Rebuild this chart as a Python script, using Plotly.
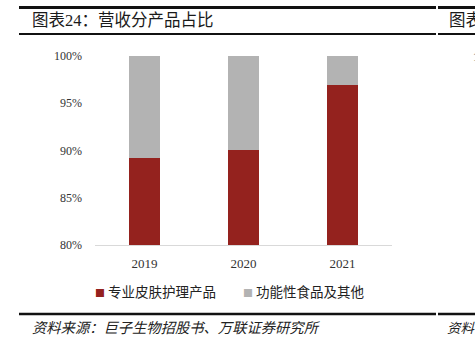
import plotly.graph_objects as go

years = ["2019", "2020", "2021"]
skin_care = [89.2, 90.1, 96.9]
func_food = [round(100 - v, 1) for v in skin_care]
series_names = ["专业皮肤护理产品", "功能性食品及其他"]
series_colors = ["#94221e", "#b3b3b3"]
y_ticks = [80, 85, 90, 95, 100]
y_ticklabels = ["80%", "85%", "90%", "95%", "100%"]

W, H = 475, 345
L, R, T, B = 95, 83, 56, 100
PW, PH = W - L - R, H - T - B


def px_x(x):
    return (x - L) / PW


def px_y(y):
    return (H - B - y) / PH


FONT_MIX = "Liberation Serif, Noto Sans CJK SC"
CJK = "Noto Sans CJK SC"

fig = go.Figure()
for vals, n, c in zip([skin_care, func_food], series_names, series_colors):
    fig.add_trace(go.Bar(x=years, y=vals, name=n,
                         marker=dict(color=c, line=dict(width=0)),
                         showlegend=False))

fig.update_layout(
    width=W, height=H,
    margin=dict(l=L, r=R, t=T, b=B),
    barmode="stack", bargap=0.69,
    plot_bgcolor="white", paper_bgcolor="white",
    xaxis=dict(showline=True, linecolor="#d9d9d9", linewidth=1,
               ticks="", showgrid=False, zeroline=False,
               tickfont=dict(family="Liberation Serif", size=13, color="#333"),
               ticklabelstandoff=6),
    yaxis=dict(range=[80, 100], tickvals=y_ticks, ticktext=y_ticklabels,
               showline=False, showgrid=False, zeroline=False, ticks="",
               tickfont=dict(family="Liberation Serif", size=12, color="#333"),
               ticklabelstandoff=12),
    showlegend=False,
)

# legend drawn as text entries with coloured square glyphs
legend_x = [93, 241]
for n, c, lx in zip(series_names, series_colors, legend_x):
    fig.add_annotation(
        text=f"<span style='color:{c};font-size:10px'>■</span> {n}",
        xref="paper", yref="paper", x=px_x(lx), y=px_y(291),
        xanchor="left", yanchor="middle", showarrow=False,
        font=dict(family=CJK, size=13.5, color="#222"))

# header / footer rules
rules = [
    (19, 436, 7.5, 3), (438, 475, 7.5, 3),
    (19, 436, 34, 2), (438, 475, 34, 2),
    (19, 436, 314, 2.5), (438, 475, 314, 2.5),
]
for x0, x1, y, w in rules:
    fig.add_shape(type="line", xref="paper", yref="paper",
                  x0=px_x(x0), x1=px_x(x1), y0=px_y(y), y1=px_y(y),
                  line=dict(color="#111", width=w))

annots = [
    ("图表24：营收分产品占比", 30, 20, 16.5, "normal", "#1a1a1a"),
    ("图表", 447, 20, 16.5, "normal", "#1a1a1a"),
    ("资料来源：巨子生物招股书、万联证券研究所", 30, 328, 14.3, "italic", "#222"),
    ("资料", 445, 328, 13.5, "italic", "#222"),
    ("1", 471, 57, 12, "normal", "#333"),
]
for text, x, y, size, style, color in annots:
    fig.add_annotation(text=text, xref="paper", yref="paper",
                       x=px_x(x), y=px_y(y), xanchor="left", yanchor="middle",
                       showarrow=False,
                       font=dict(family=FONT_MIX, size=size, color=color, style=style))

fig.write_html("out.html")
